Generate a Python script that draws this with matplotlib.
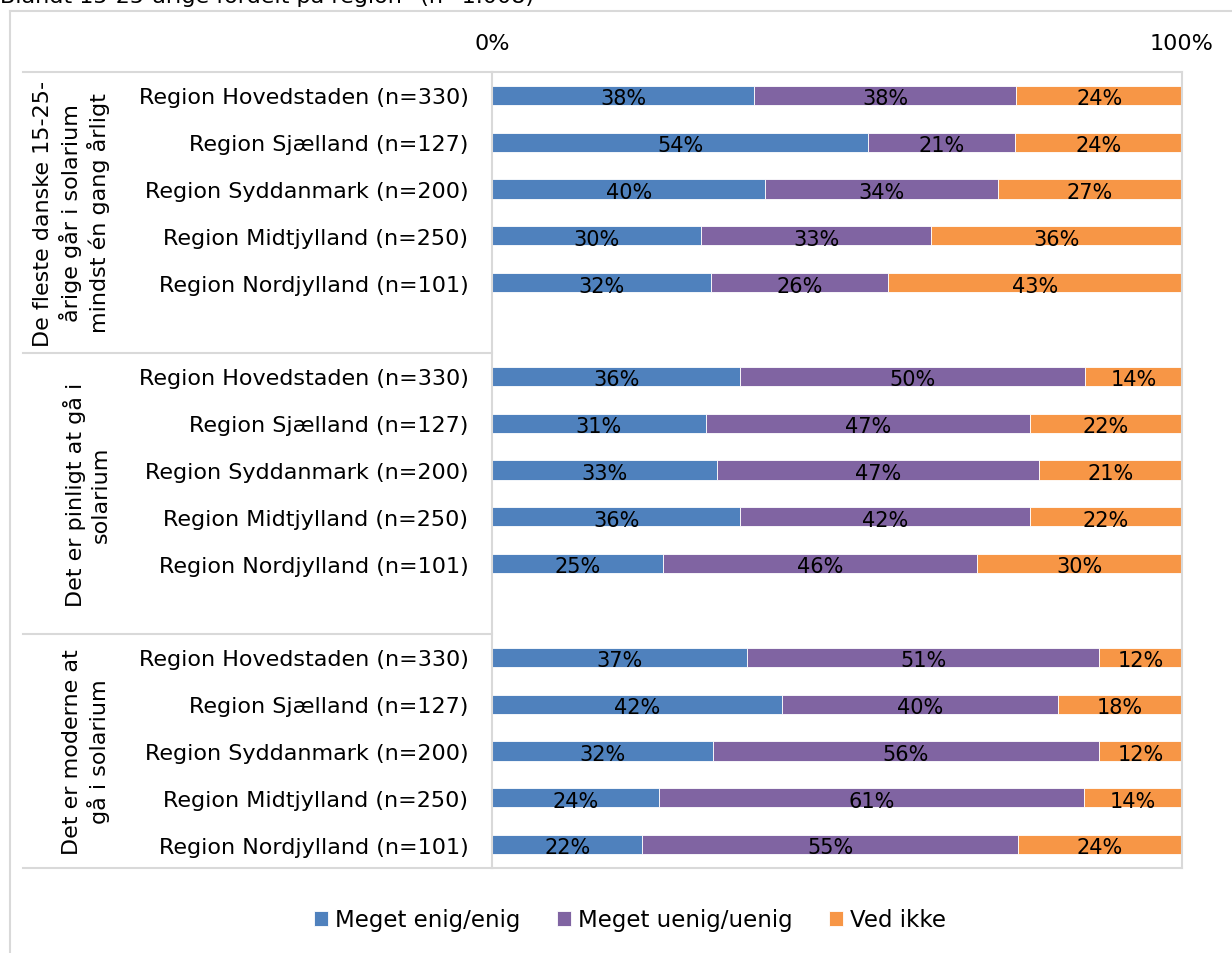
import matplotlib.pyplot as plt
from matplotlib.lines import Line2D
import numpy as np

plt.rcParams['font.family'] = ['DejaVu Sans']

# data
titel = "Blandt 15-25-årige fordelt på region* (n=1.008)"
regioner = ["Region Hovedstaden (n=330)", "Region Sjælland (n=127)",
            "Region Syddanmark (n=200)", "Region Midtjylland (n=250)",
            "Region Nordjylland (n=101)"]
grupper = ["De fleste danske 15-25-\nårige går i solarium\nmindst én gang årligt",
           "Det er pinligt at gå i\nsolarium",
           "Det er moderne at\ngå i solarium"]
serier = ["Meget enig/enig", "Meget uenig/uenig", "Ved ikke"]
farver = ["#4F81BD", "#8064A2", "#F79646"]

enig = [[38, 54, 40, 30, 32],
        [36, 31, 33, 36, 25],
        [37, 42, 32, 24, 22]]
uenig = [[38, 21, 34, 33, 26],
         [50, 47, 47, 42, 46],
         [51, 40, 56, 61, 55]]
vedikke = [[24, 24, 27, 36, 43],
           [14, 22, 21, 22, 30],
           [12, 18, 12, 14, 24]]

fig = plt.figure(figsize=(12.32, 9.54), dpi=100)
W, H = 1232, 954
ax = fig.add_axes([492 / W, 85 / H, 690 / W, 796 / H])

pos, labels = [], []
for g in range(3):
    for r in range(5):
        pos.append(g * 6 + r)
        labels.append(regioner[r])
pos = np.array(pos)

v1 = np.array(enig).ravel().astype(float)
v2 = np.array(uenig).ravel().astype(float)
v3 = np.array(vedikke).ravel().astype(float)
tot = v1 + v2 + v3

venstre = np.zeros(len(pos))
for vals, navn, farve in zip([v1, v2, v3], serier, farver):
    andel = vals / tot
    ax.barh(pos, andel, left=venstre, height=0.41, color=farve, label=navn,
            edgecolor='white', linewidth=0.6)
    for y, l, a, v in zip(pos, venstre, andel, vals):
        ax.text(l + a / 2, y + 0.06, f"{int(v)}%", ha='center', va='center',
                fontsize=15, color='black')
    venstre = venstre + andel

ax.set_xlim(0, 1)
ax.set_ylim(16.5, -0.5)
ax.set_yticks(pos)
ax.set_yticklabels(labels, fontsize=16)
ax.tick_params(axis='y', length=0, pad=17)
ax.xaxis.tick_top()
ax.set_xticks([0, 1])
ax.set_xticklabels(["0%", "100%"], fontsize=16)
ax.tick_params(axis='x', length=0, pad=14)
for s in ax.spines.values():
    s.set_color('#D9D9D9')
    s.set_linewidth(1.5)

# gruppe-linjer og tekst
tr = ax.get_yaxis_transform()
for y in [-0.5, 5.5, 11.5, 16.5]:
    ax.plot([-0.68, 0], [y, y], transform=tr, color='#D9D9D9', lw=1.5,
            clip_on=False)
for g, tekst in enumerate(grupper):
    midt = g * 6 + (2.5 if g < 2 else 2)
    ax.text(-0.553, midt, tekst, transform=tr, rotation=90, ha='right',
            va='center', multialignment='center', fontsize=16,
            linespacing=1.3)

# ramme
fig.add_artist(Line2D([10 / W, 10 / W], [0, 1 - 12 / H], color='#D9D9D9', lw=1.5))
fig.add_artist(Line2D([10 / W, 1], [1 - 12 / H, 1 - 12 / H], color='#D9D9D9', lw=1.5))

fig.text(0.0, 1 - 3 / H, titel, ha='left', va='baseline', fontsize=16)

fig.legend(loc='center', bbox_to_anchor=(630 / W, 1 - 921 / H), ncol=3,
           frameon=False, fontsize=16.5, handlelength=0.6, handleheight=0.6,
           handletextpad=0.3, columnspacing=1.6)

fig.savefig('out.png', dpi=100)
